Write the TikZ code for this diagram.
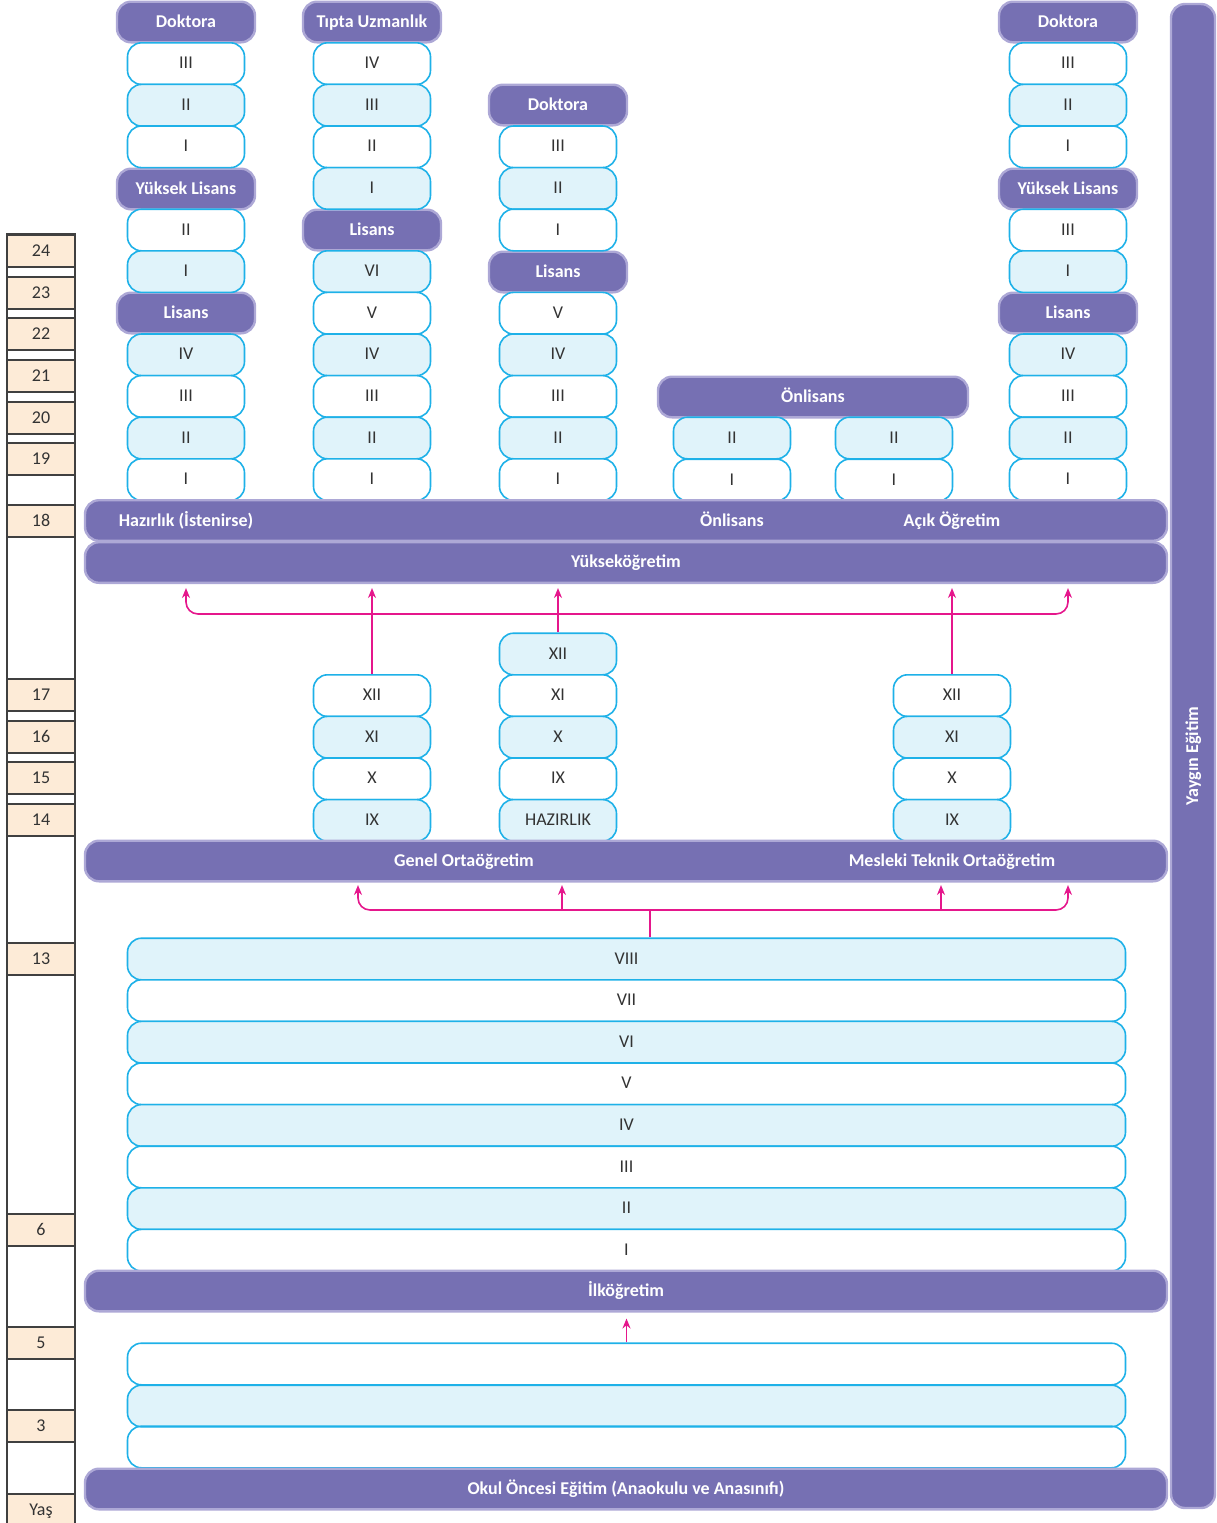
\documentclass[tikz,border=0pt]{standalone}
\usepackage{fontspec}
\setmainfont{Carlito}
\usetikzlibrary{arrows.meta}

\definecolor{mor}{HTML}{7670B3}
\definecolor{morkenar}{HTML}{ADA8D6}
\definecolor{camgobegi}{HTML}{1EB1E8}
\definecolor{acikmavi}{HTML}{E0F3FA}
\definecolor{seftali}{HTML}{FDEBD7}
\definecolor{pembe}{HTML}{E5178C}
\definecolor{yazi}{HTML}{333333}

\tikzset{
    baslik/.style={draw=morkenar, line width=1.2pt, fill=mor, rounded corners=7pt,
        text=white, font=\bfseries\fontsize{9}{10}\selectfont,
        text height=6.5pt, text depth=1.5pt,
        minimum width=69pt, minimum height=20.3pt, inner sep=0pt},
    bant/.style={baslik, minimum width=541pt},
    yil/.style={draw=camgobegi, line width=0.8pt, rounded corners=7pt, text=yazi,
        font=\fontsize{9}{10}\selectfont, text height=6.5pt, text depth=1.5pt,
        minimum width=58.5pt, minimum height=20.8pt, inner sep=0pt},
    yas/.style={draw=black!75, fill=seftali, line width=0.7pt, text=yazi,
        font=\fontsize{9}{10}\selectfont, text height=6.5pt, text depth=1.5pt,
        minimum width=34pt, minimum height=16pt, inner sep=0pt},
    bantyazi/.style={text=white, font=\bfseries\fontsize{9}{10}\selectfont,
        text height=6.5pt, text depth=1.5pt, inner sep=0pt},
    >={Stealth[length=5pt,width=4pt]},
    ok/.style={draw=pembe, line width=0.8pt, ->},
    cift/.style={draw=pembe, line width=0.8pt, <->, rounded corners=6pt},
}

\begin{document}
\begin{tikzpicture}[x=0.5pt, y=-0.5pt]

    \useasboundingbox (0,0) rectangle (1217,1523);

    % yas sutunu
    \draw[black!75, line width=0.7pt] (7,234) rectangle (75,1523);
    \foreach \a/\y [count=\i] in {24/251,23/293,22/334,21/376,20/418,19/459,18/521,
        17/695,16/737,15/778,14/820,13/959,6/1230,5/1343,3/1426,Yaş/1510}
        \node[yas] (yas\i) at (41,\y) {\a};

    % yaygin egitim
    \node[baslik, rotate=90, minimum width=752pt, minimum height=22pt] (yaygin)
        at (1193,756) {Yaygın Eğitim};

    % yuksekogretim sutunlari
    \node[baslik] (aD) at (186,22) {Doktora};
    \node[baslik] (aY) at (186,189) {Yüksek Lisans};
    \node[baslik] (aL) at (186,313) {Lisans};
    \foreach \k/\r in {1/III,2/II,3/I,5/II,6/I,8/IV,9/III,10/II,11/I}{
        \ifodd\k\relax\def\zemin{white}\else\def\zemin{acikmavi}\fi
        \node[yil, fill=\zemin] (a\k) at (186,{22+41.6*\k}) {\r};
    }

    \node[baslik] (bT) at (372,22) {Tıpta Uzmanlık};
    \node[baslik] (bL) at (372,230) {Lisans};
    \foreach \k/\r in {1/IV,2/III,3/II,4/I,6/VI,7/V,8/IV,9/III,10/II,11/I}{
        \ifodd\k\relax\def\zemin{white}\else\def\zemin{acikmavi}\fi
        \node[yil, fill=\zemin] (b\k) at (372,{22+41.6*\k}) {\r};
    }

    \node[baslik] (cD) at (558,105) {Doktora};
    \node[baslik] (cL) at (558,272) {Lisans};
    \foreach \k/\r in {3/III,4/II,5/I,7/V,8/IV,9/III,10/II,11/I}{
        \ifodd\k\relax\def\zemin{white}\else\def\zemin{acikmavi}\fi
        \node[yil, fill=\zemin] (c\k) at (558,{22+41.6*\k}) {\r};
    }

    \node[baslik, minimum width=155pt] (dO) at (813,397) {Önlisans};
    \node[yil, fill=acikmavi] (d10) at (732,438) {II};
    \node[yil] (d11) at (732,480) {I};
    \node[yil, fill=acikmavi] (e10) at (894,438) {II};
    \node[yil] (e11) at (894,480) {I};

    \node[baslik] (fD) at (1068,22) {Doktora};
    \node[baslik] (fY) at (1068,189) {Yüksek Lisans};
    \node[baslik] (fL) at (1068,313) {Lisans};
    \foreach \k/\r in {1/III,2/II,3/I,5/III,6/I,8/IV,9/III,10/II,11/I}{
        \ifodd\k\relax\def\zemin{white}\else\def\zemin{acikmavi}\fi
        \node[yil, fill=\zemin] (f\k) at (1068,{22+41.6*\k}) {\r};
    }

    % bantlar
    \node[bant] (hzr) at (626,520.5) {};
    \node[bantyazi] (hzr1) at (186,521) {Hazırlık (İstenirse)};
    \node[bantyazi] (hzr2) at (732,521) {Önlisans};
    \node[bantyazi] (hzr3) at (952,521) {Açık Öğretim};
    \node[bant] (yuk) at (626,562.5) {Yükseköğretim};

    % ortaogretim
    \foreach \j/\r in {1/XII,2/XI,3/X,4/IX}{
        \ifodd\j\relax\def\zemin{white}\else\def\zemin{acikmavi}\fi
        \node[yil, fill=\zemin] (gb\j) at (372,{654+41.6*\j}) {\r};
        \node[yil, fill=\zemin] (gm\j) at (952,{654+41.6*\j}) {\r};
    }
    \foreach \j/\r in {0/XII,1/XI,2/X,3/IX,4/HAZIRLIK}{
        \ifodd\j\relax\def\zemin{white}\else\def\zemin{acikmavi}\fi
        \node[yil, fill=\zemin] (gc\j) at (558,{654+41.6*\j}) {\r};
    }

    \node[bant] (ort) at (626,861) {};
    \node[bantyazi] (ort1) at (464,861) {Genel Ortaöğretim};
    \node[bantyazi] (ort2) at (952,861) {Mesleki Teknik Ortaöğretim};

    % ilkogretim
    \foreach \j/\r in {0/VIII,1/VII,2/VI,3/V,4/IV,5/III,6/II,7/I}{
        \ifodd\j\relax\def\zemin{white}\else\def\zemin{acikmavi}\fi
        \node[yil, fill=\zemin, minimum width=499pt] (p\j) at (626.5,{959+41.6*\j}) {\r};
    }
    \node[bant] (ilk) at (626,1291) {İlköğretim};

    % okul oncesi
    \node[yil, minimum width=499pt] (k0) at (626.5,1364) {};
    \node[yil, fill=acikmavi, minimum width=499pt] (k1) at (626.5,1406) {};
    \node[yil, minimum width=499pt] (k2) at (626.5,1447) {};
    \node[bant] (okul) at (626,1489) {Okul Öncesi Eğitim (Anaokulu ve Anasınıfı)};

    % oklar
    \coordinate (ucA) at (186,588);
    \coordinate (ucF) at (1068,588);
    \coordinate (catal) at (620,614);
    \draw[cift] (ucA) |- (catal) -| (ucF);
    \draw[ok] (gb1.north) -- (gb1.north |- ucA);
    \draw[ok] (gc0.north) -- (gc0.north |- ucA);
    \draw[ok] (gm1.north) -- (gm1.north |- ucA);

    \coordinate (ucG) at (358,885);
    \coordinate (ucM) at (1068,885);
    \coordinate (catal2) at (650,910);
    \coordinate (ucG2) at (562,885);
    \coordinate (ucM2) at (941,885);
    \draw[cift] (ucG) |- (catal2) -| (ucM);
    \draw[draw=pembe, line width=0.8pt] (catal2) -- (catal2 |- p0.north);
    \draw[ok] (ucG2 |- catal2) -- (ucG2);
    \draw[ok] (ucM2 |- catal2) -- (ucM2);

    \draw[ok, shorten >=3pt] (k0.north) -- (k0.north |- ilk.south);

\end{tikzpicture}
\end{document}
